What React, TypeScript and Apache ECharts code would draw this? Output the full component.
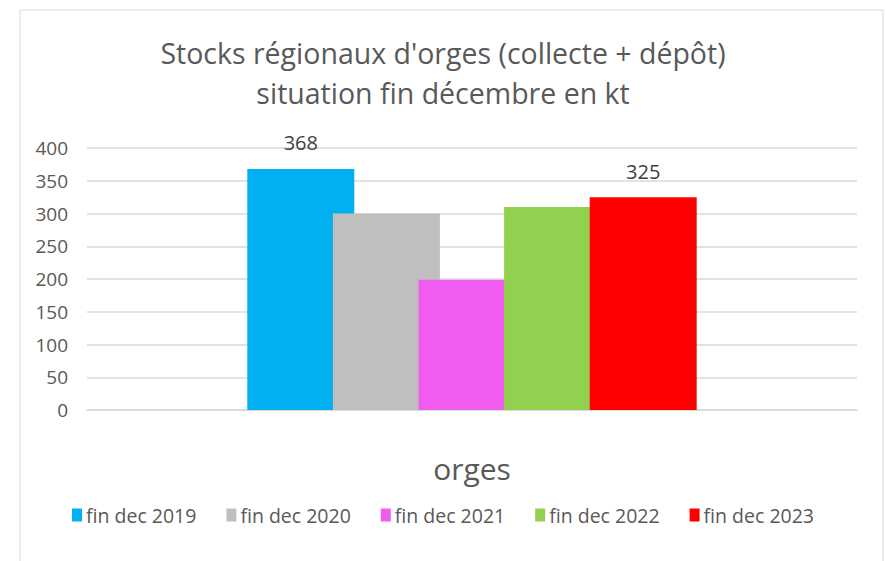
import React, { useEffect, useRef } from "react";
import * as echarts from "echarts";

const categories = ["orges"];
const seriesNames = ["fin dec 2019", "fin dec 2020", "fin dec 2021", "fin dec 2022", "fin dec 2023"];
const seriesValues = [368, 300, 199, 310, 325];
const showLabel = [true, false, false, false, true];
const colors = ["#00B0F0", "#BFBFBF", "#F05CF0", "#92D050", "#FF0000"];
const yTicks = { min: 0, max: 400, interval: 50 };

const FONT = "'Open Sans', 'Noto Sans', sans-serif";

export default function App() {
  const ref = useRef<HTMLDivElement>(null);
  useEffect(() => {
    if (!ref.current) return;
    const chart = echarts.init(ref.current, null, { renderer: "svg" });
    chart.setOption({
      animation: false,
      backgroundColor: "#ffffff",
      textStyle: { fontFamily: FONT },
      title: {
        text: "Stocks régionaux d'orges (collecte + dépôt)\nsituation fin décembre en kt",
        left: "center",
        top: 33,
        padding: 0,
        textStyle: {
          fontFamily: FONT,
          fontSize: 28.5,
          fontWeight: "normal",
          color: "#595959",
          lineHeight: 40,
        },
      },
      graphic: [
        {
          type: "rect",
          shape: { x: 20, y: 10, width: 863, height: 600 },
          style: { fill: "none", stroke: "#d9d9d9", lineWidth: 1 },
          silent: true,
          z: -1,
        },
      ],
      legend: {
        top: 500,
        left: "center",
        itemWidth: 10,
        itemHeight: 13,
        itemGap: 30,
        icon: "rect",
        textStyle: { fontFamily: FONT, fontSize: 19.5, color: "#595959", padding: [0, 0, 0, -1] },
        data: seriesNames,
      },
      grid: { left: 87, right: 29, top: 148, bottom: 151, containLabel: false },
      xAxis: {
        type: "category",
        data: categories,
        axisLine: { show: true, lineStyle: { color: "#d9d9d9", width: 1.5 } },
        axisTick: { show: false },
        axisLabel: {
          fontFamily: FONT,
          fontSize: 30,
          color: "#595959",
          margin: 58,
          verticalAlign: "middle",
        },
      },
      yAxis: {
        type: "value",
        min: yTicks.min,
        max: yTicks.max,
        interval: yTicks.interval,
        axisLine: { show: false },
        axisTick: { show: false },
        splitLine: { lineStyle: { color: "#d9d9d9", width: 1.5 } },
        axisLabel: { fontFamily: FONT, fontSize: 19, color: "#595959", margin: 19 },
      },
      series: seriesNames.map((name, i) => ({
        name,
        type: "bar",
        data: [seriesValues[i]],
        barWidth: 107,
        barGap: "-20%",
        itemStyle: { color: colors[i] },
        label: {
          show: showLabel[i],
          position: "top",
          distance: 16,
          fontFamily: FONT,
          fontSize: 20,
          color: "#404040",
        },
      })),
    });
    return () => chart.dispose();
  }, []);
  return (
    <div
      ref={ref}
      style={{ position: "fixed", left: 0, top: 0, width: 886, height: 561 }}
    />
  );
}
